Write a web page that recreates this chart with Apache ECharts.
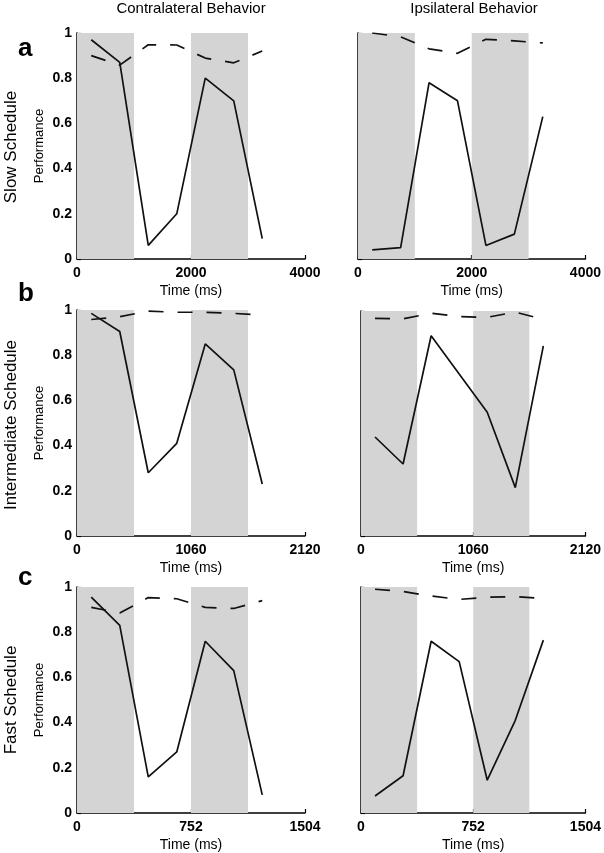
<!DOCTYPE html>
<html>
<head>
<meta charset="utf-8">
<script src="https://cdn.jsdelivr.net/npm/echarts@6/dist/echarts.min.js"></script>
<style>html,body{margin:0;padding:0;background:#fff}#c{width:604px;height:853px}</style>
</head>
<body>
<div id="c"></div>
<script>
// ---- data ----
var columnTitles = ["Contralateral Behavior", "Ipsilateral Behavior"];
var rowTitles = ["Slow Schedule", "Intermediate Schedule", "Fast Schedule"];
var rowLetters = ["a", "b", "c"];
var xMaxByRow = [4000, 2120, 1504];
var xStepByRow = [2000, 1060, 752];
var shadeSlow = [[0, 1000], [2000, 3000]];
var shadeInt = [[0, 530], [1060, 1590]];
var shadeFast = [[0, 376], [752, 1128]];
var timeSlow = [250, 750, 1250, 1750, 2250, 2750, 3250];
var timeInt = [132.5, 397.5, 662.5, 927.5, 1192.5, 1457.5, 1722.5];
var timeFast = [94, 282, 470, 658, 846, 1034, 1222];
var contraSlowSolid = [0.97, 0.87, 0.06, 0.20, 0.80, 0.70, 0.09];
var contraSlowDash  = [0.90, 0.858, 0.948, 0.947, 0.889, 0.868, 0.92];
var ipsiSlowSolid   = [0.04, 0.05, 0.78, 0.70, 0.06, 0.11, 0.63];
var ipsiSlowDash    = [1.0, 0.983, 0.93, 0.91, 0.972, 0.965, 0.956];
var contraIntSolid  = [0.985, 0.905, 0.28, 0.41, 0.85, 0.735, 0.23];
var contraIntDash   = [0.958, 0.97, 0.995, 0.99, 0.99, 0.985, 0.977];
var ipsiIntSolid    = [0.44, 0.32, 0.89, 0.72, 0.55, 0.215, 0.845];
var ipsiIntDash     = [0.967, 0.965, 0.99, 0.975, 0.972, 0.995, 0.963];
var contraFastSolid = [0.955, 0.83, 0.16, 0.27, 0.76, 0.63, 0.08];
var contraFastDash  = [0.91, 0.885, 0.953, 0.948, 0.91, 0.905, 0.94];
var ipsiFastSolid   = [0.075, 0.165, 0.76, 0.67, 0.145, 0.41, 0.765];
var ipsiFastDash    = [0.99, 0.98, 0.96, 0.945, 0.955, 0.957, 0.95];

// ---- layout ----
var FONT = "Liberation Sans, Arial, Helvetica, sans-serif";
var panels = [
  {row:0,col:0,x:timeSlow,solid:contraSlowSolid,dash:contraSlowDash,shade:shadeSlow,left:77,top:33,w:228,h:226},
  {row:0,col:1,x:timeSlow,solid:ipsiSlowSolid,dash:ipsiSlowDash,shade:shadeSlow,left:358,top:33,w:228,h:226},
  {row:1,col:0,x:timeInt,solid:contraIntSolid,dash:contraIntDash,shade:shadeInt,left:77,top:310,w:228,h:226},
  {row:1,col:1,x:timeInt,solid:ipsiIntSolid,dash:ipsiIntDash,shade:shadeInt,left:361,top:311,w:227,h:225},
  {row:2,col:0,x:timeFast,solid:contraFastSolid,dash:contraFastDash,shade:shadeFast,left:77,top:587,w:228,h:226},
  {row:2,col:1,x:timeFast,solid:ipsiFastSolid,dash:ipsiFastDash,shade:shadeFast,left:361,top:587,w:227,h:226}
];

var grid = [], xAxis = [], yAxis = [], series = [];
panels.forEach(function(p, i){
  grid.push({left:p.left, top:p.top, width:p.w, height:p.h, containLabel:false});
  xAxis.push({
    type:'value', gridIndex:i, min:0, max:xMaxByRow[p.row], interval:xStepByRow[p.row],
    name:'Time (ms)', nameLocation:'middle', nameGap:25,
    nameTextStyle:{fontFamily:FONT, fontSize:14, color:'#000'},
    axisLine:{show:true, lineStyle:{color:'#000', width:1.5}},
    axisTick:{show:true, inside:true, length:4, lineStyle:{color:'#000', width:1.2}},
    axisLabel:{fontFamily:FONT, fontSize:14, fontWeight:'bold', color:'#000', margin:7, showMinLabel:true, showMaxLabel:true,
      formatter:function(v){ return String(v); }},
    splitLine:{show:false}
  });
  yAxis.push({
    type:'value', gridIndex:i, min:0, max:1, interval:0.2,
    name: p.col === 0 ? 'Performance' : '', nameLocation:'middle', nameGap:31,
    nameTextStyle:{fontFamily:FONT, fontSize:13, color:'#000'},
    axisLine:{show:true, lineStyle:{color:'#000', width:1.5}},
    axisTick:{show:true, inside:true, length:4, lineStyle:{color:'#000', width:1.2}},
    axisLabel:{show:p.col === 0, fontFamily:FONT, fontSize:14, fontWeight:'bold', color:'#000', margin:5,
      formatter:function(v){ return String(Math.round(v*10)/10); }},
    splitLine:{show:false}
  });
  series.push({
    type:'line', xAxisIndex:i, yAxisIndex:i, data:[], silent:true,
    markArea:{silent:true, itemStyle:{color:'#d4d4d4'},
      data:p.shade.map(function(s){ return [{xAxis:s[0], yAxis:0},{xAxis:s[1], yAxis:1}]; })}
  });
  series.push({
    type:'line', xAxisIndex:i, yAxisIndex:i, symbol:'none', silent:true, z:3,
    lineStyle:{color:'#111', width:1.7, type:[15,14]},
    data:p.x.map(function(t,k){ return [t, p.dash[k]]; })
  });
  series.push({
    type:'line', xAxisIndex:i, yAxisIndex:i, symbol:'none', silent:true, z:4,
    lineStyle:{color:'#111', width:1.7},
    data:p.x.map(function(t,k){ return [t, p.solid[k]]; })
  });
});

var graphic = [];
var colCenters = [191, 474];
columnTitles.forEach(function(t, i){
  graphic.push({type:'text', x:colCenters[i], y:9,
    style:{text:t, font:'15px '+FONT, fill:'#000', textAlign:'center', textVerticalAlign:'middle'}});
});
var rowCenters = [147, 425, 700];
var letterY = [36, 281, 565];
rowTitles.forEach(function(t, i){
  graphic.push({type:'text', x:11, y:rowCenters[i], rotation:Math.PI/2,
    style:{text:t, font:'17px '+FONT, fill:'#000', textAlign:'center', textVerticalAlign:'middle'}});
  graphic.push({type:'text', x:18, y:letterY[i],
    style:{text:rowLetters[i], font:'bold 26px '+FONT, fill:'#000'}});
});

var chart = echarts.init(document.getElementById('c'), null, {renderer:'canvas'});
chart.setOption({animation:false, backgroundColor:'#fff', grid:grid, xAxis:xAxis, yAxis:yAxis, series:series, graphic:graphic});
</script>
</body>
</html>
